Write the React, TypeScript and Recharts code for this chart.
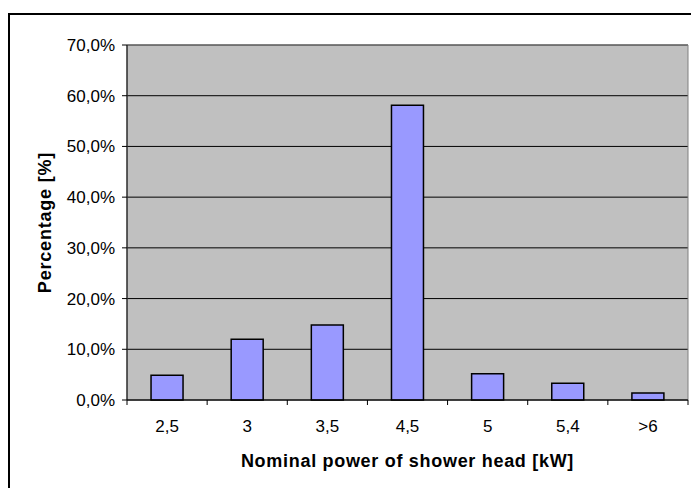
import { BarChart, Bar, XAxis, YAxis, CartesianGrid, ReferenceArea } from 'recharts'

const powers = ['2,5', '3', '3,5', '4,5', '5', '5,4', '>6']
const shares = [0.049, 0.12, 0.148, 0.581, 0.052, 0.033, 0.014]
const percentTicks = [0, 0.1, 0.2, 0.3, 0.4, 0.5, 0.6, 0.7]

const W = 691
const H = 488
const LEFT = 127
const RIGHT = 3
const HALF_BAND = (W - LEFT - RIGHT) / powers.length / 2

const data = powers.map((p, i) => ({ power: p, share: shares[i] }))

const fmtPct = (v: number) => (v * 100).toFixed(1).replace('.', ',') + '%'

// category label centred in its band, tick marks on the band boundaries
function PowerTick(props: any) {
  const { x, y, payload, index } = props
  return (
    <g>
      <line x1={x - HALF_BAND} x2={x - HALF_BAND} y1={y} y2={y + 5} stroke="#000" />
      {index === powers.length - 1 && (
        <line x1={x + HALF_BAND} x2={x + HALF_BAND} y1={y} y2={y + 5} stroke="#000" />
      )}
      <text x={x} y={y + 32} textAnchor="middle" fontSize={17} fill="#000">
        {payload.value}
      </text>
    </g>
  )
}

export default function App() {
  return (
    <div
      style={{
        position: 'absolute',
        left: 0,
        top: 0,
        width: W,
        height: H,
        overflow: 'hidden',
        background: '#fff',
        fontFamily: '"Liberation Sans", Arial, sans-serif',
      }}
    >
      {/* frame runs off the right and bottom edges */}
      <div
        style={{
          position: 'absolute',
          left: 8,
          top: 13,
          right: 0,
          bottom: 0,
          borderLeft: '2px solid #000',
          borderTop: '2px solid #000',
        }}
      />
      <div style={{ position: 'absolute', left: 0, top: 0 }}>
        <BarChart
          width={W}
          height={H}
          data={data}
          margin={{ top: 45, right: RIGHT, bottom: 28, left: 0 }}
          barCategoryGap="30%"
        >
          <CartesianGrid vertical={false} stroke="#000" fill="#c0c0c0" fillOpacity={1} />
          <ReferenceArea y1={0} y2={0.7} fill="none" stroke="#808080" strokeWidth={1} />
          <XAxis
            dataKey="power"
            height={60}
            stroke="#000"
            tickLine={false}
            tickSize={0}
            tickMargin={0}
            tick={<PowerTick />}
            interval={0}
            label={{
              value: 'Nominal power of shower head [kW]',
              position: 'insideBottom',
              offset: -7,
              fontSize: 18,
              fontWeight: 700,
              fill: '#000',
              style: { letterSpacing: 0.7 },
            }}
          />
          <YAxis
            width={LEFT}
            domain={[0, 0.7]}
            ticks={percentTicks}
            tickFormatter={fmtPct}
            interval={0}
            stroke="#000"
            tickSize={5}
            tickMargin={7}
            tick={{ fontSize: 17, fill: '#000' }}
            label={{
              value: 'Percentage [%]',
              angle: -90,
              position: 'insideLeft',
              offset: 45,
              fontSize: 18,
              fontWeight: 700,
              fill: '#000',
              style: { textAnchor: 'middle', letterSpacing: 0.8 },
            }}
          />
          <Bar dataKey="share" fill="#9999ff" stroke="#000" strokeWidth={1.5} isAnimationActive={false} />
        </BarChart>
      </div>
    </div>
  )
}
